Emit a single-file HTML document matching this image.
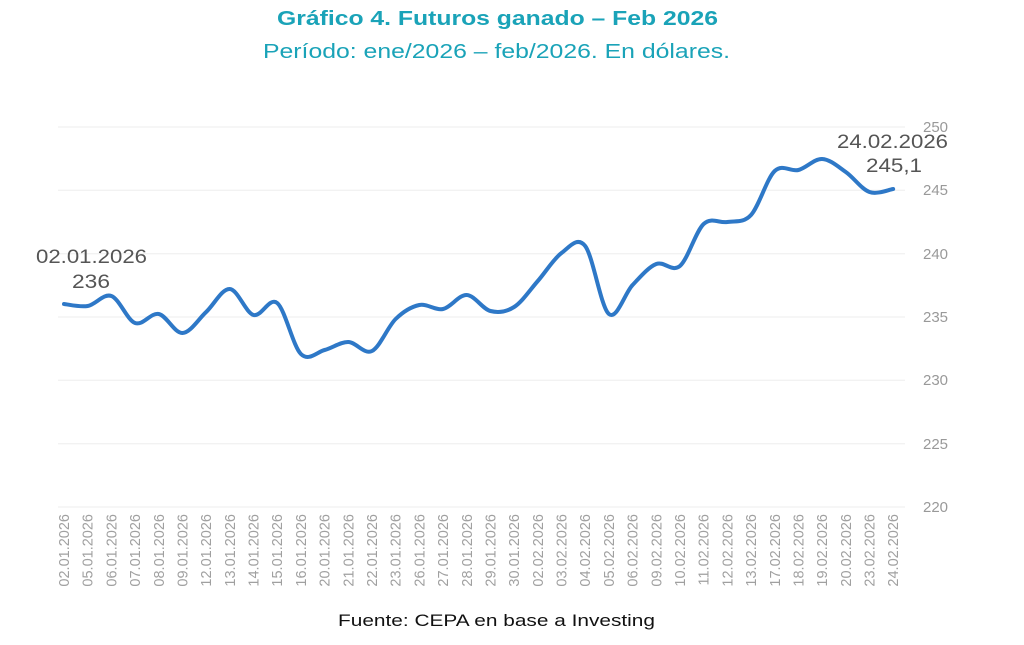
<!DOCTYPE html>
<html><head><meta charset="utf-8"><style>
body{margin:0;background:#fff;width:1024px;height:640px;overflow:hidden;font-family:"Liberation Sans",sans-serif}
</style></head><body>
<svg width="1024" height="640" viewBox="0 0 1024 640" xmlns="http://www.w3.org/2000/svg" font-family="Liberation Sans, sans-serif">
<text x="277" y="25" textLength="441" lengthAdjust="spacingAndGlyphs" font-size="20" font-weight="bold" fill="#1aa3b8">Gráfico 4. Futuros ganado – Feb 2026</text>
<text x="263" y="58" textLength="467" lengthAdjust="spacingAndGlyphs" font-size="20" fill="#1aa3b8">Período: ene/2026 – feb/2026. En dólares.</text>
<g stroke="#eeeeee" stroke-width="1">
<line x1="58" y1="127" x2="905" y2="127"/><line x1="58" y1="190.3" x2="905" y2="190.3"/>
<line x1="58" y1="253.7" x2="905" y2="253.7"/><line x1="58" y1="317" x2="905" y2="317"/>
<line x1="58" y1="380.3" x2="905" y2="380.3"/><line x1="58" y1="443.7" x2="905" y2="443.7"/>
<line x1="58" y1="507" x2="905" y2="507"/>
</g>
<g font-size="15" fill="#999" text-anchor="start">
<text x="923" y="132">250</text><text x="923" y="195">245</text><text x="923" y="259">240</text>
<text x="923" y="322">235</text><text x="923" y="385">230</text><text x="923" y="449">225</text><text x="923" y="512">220</text>
</g>
<g font-size="14.5" fill="#a0a0a0" text-anchor="end">
<text transform="translate(69,514) rotate(-90)">02.01.2026</text>
<text transform="translate(92.7,514) rotate(-90)">05.01.2026</text>
<text transform="translate(116.4,514) rotate(-90)">06.01.2026</text>
<text transform="translate(140.1,514) rotate(-90)">07.01.2026</text>
<text transform="translate(163.8,514) rotate(-90)">08.01.2026</text>
<text transform="translate(187.4,514) rotate(-90)">09.01.2026</text>
<text transform="translate(211.1,514) rotate(-90)">12.01.2026</text>
<text transform="translate(234.8,514) rotate(-90)">13.01.2026</text>
<text transform="translate(258.5,514) rotate(-90)">14.01.2026</text>
<text transform="translate(282.2,514) rotate(-90)">15.01.2026</text>
<text transform="translate(305.9,514) rotate(-90)">16.01.2026</text>
<text transform="translate(329.6,514) rotate(-90)">20.01.2026</text>
<text transform="translate(353.3,514) rotate(-90)">21.01.2026</text>
<text transform="translate(377,514) rotate(-90)">22.01.2026</text>
<text transform="translate(400.7,514) rotate(-90)">23.01.2026</text>
<text transform="translate(424.4,514) rotate(-90)">26.01.2026</text>
<text transform="translate(448.1,514) rotate(-90)">27.01.2026</text>
<text transform="translate(471.8,514) rotate(-90)">28.01.2026</text>
<text transform="translate(495.4,514) rotate(-90)">29.01.2026</text>
<text transform="translate(519.1,514) rotate(-90)">30.01.2026</text>
<text transform="translate(542.8,514) rotate(-90)">02.02.2026</text>
<text transform="translate(566.5,514) rotate(-90)">03.02.2026</text>
<text transform="translate(590.2,514) rotate(-90)">04.02.2026</text>
<text transform="translate(613.9,514) rotate(-90)">05.02.2026</text>
<text transform="translate(637.6,514) rotate(-90)">06.02.2026</text>
<text transform="translate(661.3,514) rotate(-90)">09.02.2026</text>
<text transform="translate(685,514) rotate(-90)">10.02.2026</text>
<text transform="translate(708.7,514) rotate(-90)">11.02.2026</text>
<text transform="translate(732.4,514) rotate(-90)">12.02.2026</text>
<text transform="translate(756.1,514) rotate(-90)">13.02.2026</text>
<text transform="translate(779.8,514) rotate(-90)">17.02.2026</text>
<text transform="translate(803.4,514) rotate(-90)">18.02.2026</text>
<text transform="translate(827.1,514) rotate(-90)">19.02.2026</text>
<text transform="translate(850.8,514) rotate(-90)">20.02.2026</text>
<text transform="translate(874.5,514) rotate(-90)">23.02.2026</text>
<text transform="translate(898.2,514) rotate(-90)">24.02.2026</text>
</g>
<path id="ln" d="" fill="none" stroke="#2e78c7" stroke-width="4" stroke-linecap="round" stroke-linejoin="round"/>
<g font-size="19" fill="#555">
<text x="36" y="263" textLength="111" lengthAdjust="spacingAndGlyphs">02.01.2026</text>
<text x="72" y="288" textLength="38" lengthAdjust="spacingAndGlyphs">236</text>
<text x="837" y="148" textLength="111" lengthAdjust="spacingAndGlyphs">24.02.2026</text>
<text x="866" y="172" textLength="56" lengthAdjust="spacingAndGlyphs">245,1</text>
</g>
<text x="338" y="626" textLength="317" lengthAdjust="spacingAndGlyphs" font-size="17" fill="#111">Fuente: CEPA en base a Investing</text>
</svg>
<script>
var ys=[304,306,296,323,314,333,312,289,315,303,354,350,342,351,319,305,309,295,311,307,281,253,246,314,285,264,266,224,222,215,171,170,159,172,192,189];
var p=ys.map(function(y,i){return [64+i*23.69,y]});
var d="M"+p[0][0]+","+p[0][1];
for(var i=0;i<p.length-1;i++){var a=p[Math.max(i-1,0)],b=p[i],c=p[i+1],e=p[Math.min(i+2,p.length-1)];
d+=" C"+(b[0]+(c[0]-a[0])/6)+","+(b[1]+(c[1]-a[1])/6)+" "+(c[0]-(e[0]-b[0])/6)+","+(c[1]-(e[1]-b[1])/6)+" "+c[0]+","+c[1];}
document.getElementById("ln").setAttribute("d",d);
</script>
</body></html>
